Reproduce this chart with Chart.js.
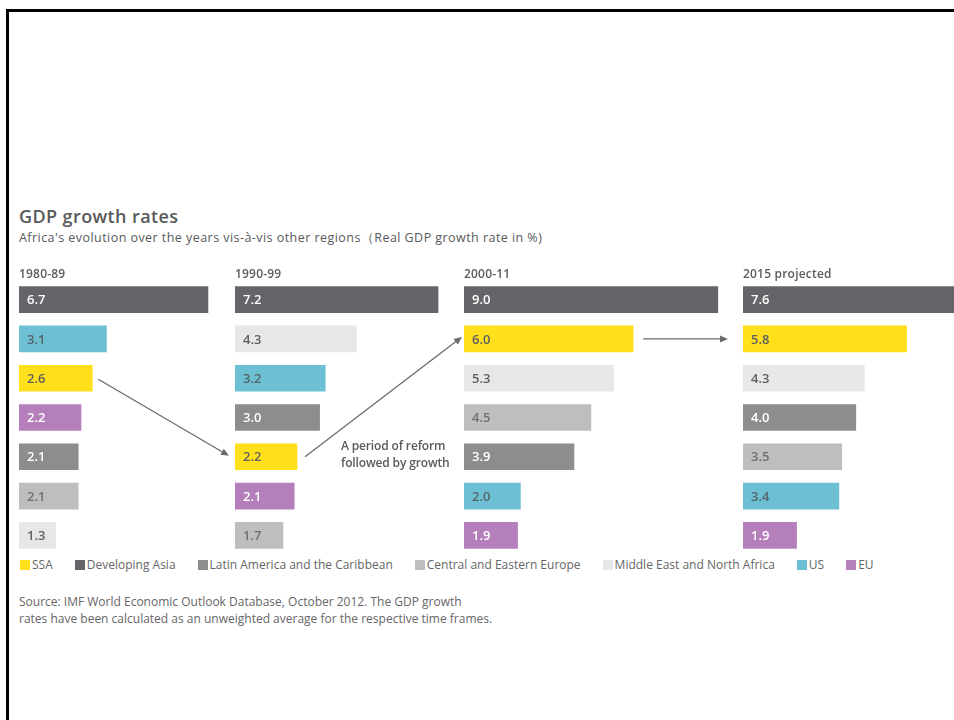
<!DOCTYPE html>
<html>
<head>
<meta charset="utf-8">
<script src="https://cdn.jsdelivr.net/npm/chart.js@4.4.1/dist/chart.umd.min.js"></script>
<style>
    html, body { margin: 0; padding: 0; background: #fff; }
    body { width: 954px; height: 720px; position: relative; overflow: hidden; font-family: "Open Sans", "Noto Sans", sans-serif; color: #58595b; }
    .frame { position: absolute; left: 6px; top: 9px; right: -10px; bottom: -10px; border-left: 3px solid #000; border-top: 3px solid #000; }
    .title { position: absolute; left: 19px; top: 204px; font-size: 18px; letter-spacing: 0.4px; font-weight: 600; line-height: 24px; }
    .subtitle { position: absolute; left: 19px; top: 229px; font-size: 12.5px; letter-spacing: 0.45px; line-height: 18px; }
    .period { position: absolute; top: 265px; font-size: 12px; letter-spacing: 0.2px; font-weight: 600; line-height: 17px; color: #5a5b5d; }
    .note { position: absolute; left: 341px; top: 437px; font-size: 12px; letter-spacing: -0.15px; font-weight: 600; line-height: 17px; color: #5a5b5d; }
    .chart-box { position: absolute; top: 280px; height: 275px; }
    .narrow { font-family: "Open Sans", sans-serif; color: #666; }
    .legend { position: absolute; left: 20px; top: 557px; display: flex; font-size: 12px; line-height: 16px; }
    .legend-item { display: flex; align-items: center; margin-right: 22px; }
    .legend-swatch { width: 10px; height: 10px; margin-right: 2px; }
    .source { position: absolute; left: 19px; top: 593px; font-size: 12px; line-height: 17px; }
    #arrows { position: absolute; left: 0; top: 0; pointer-events: none; }
</style>
</head>
<body>
<div class="frame"></div>
<div class="title">GDP growth rates</div>
<div class="subtitle">Africa's evolution over the years vis-à-vis other regions（Real GDP growth rate in %)</div>
<div id="charts"></div>
<div class="note">A period of reform<br>followed by growth</div>
<div class="legend narrow" id="legend"></div>
<div class="source narrow">Source: IMF World Economic Outlook Database, October 2012. The GDP growth<br>rates have been calculated as an unweighted average for the respective time frames.</div>
<canvas id="arrows" width="954" height="720"></canvas>

<script>
// data
const periods = ['1980-89', '1990-99', '2000-11', '2015 projected'];
const regions = ['SSA', 'Developing Asia', 'Latin America and the Caribbean', 'Central and Eastern Europe', 'Middle East and North Africa', 'US', 'EU'];
const regionColors = ['#ffe01b', '#646569', '#8c8d8f', '#bdbec0', '#e6e7e8', '#6dc0d3', '#b57fbc'];
const labelColors = ['#5f6062', '#ffffff', '#ffffff', '#6f7072', '#5f6062', '#55646a', '#ffffff'];

// growth rate per region, one value per period
const ssa = [2.6, 2.2, 6.0, 5.8];
const developingAsia = [6.7, 7.2, 9.0, 7.6];
const latinAmerica = [2.1, 3.0, 3.9, 4.0];
const easternEurope = [2.1, 1.7, 4.5, 3.5];
const middleEast = [1.3, 4.3, 5.3, 4.3];
const us = [3.1, 3.2, 2.0, 3.4];
const eu = [2.2, 2.1, 1.9, 1.9];
const seriesByRegion = [ssa, developingAsia, latinAmerica, easternEurope, middleEast, us, eu];

// layout of the four small bar charts
const panelLeft = [19, 235, 464, 743];
const panelWidth = [205, 220, 270, 211];
const PX_PER_UNIT = 28.2;

const valueLabels = {
    id: 'valueLabels',
    afterDatasetsDraw(chart) {
        const ctx = chart.ctx;
        const meta = chart.getDatasetMeta(0);
        const ds = chart.data.datasets[0];
        ctx.save();
        ctx.font = '600 13px "Open Sans", sans-serif';
        ctx.textBaseline = 'middle';
        meta.data.forEach((bar, i) => {
            ctx.fillStyle = ds.labelColors[i];
            ctx.fillText(ds.data[i].toFixed(1), bar.base + 8, bar.y + 1);
        });
        ctx.restore();
    }
};

const charts = [];

periods.forEach((period, p) => {
    // sort regions by value for this period, largest on top
    const order = regions.map((r, i) => i).sort((a, b) => seriesByRegion[b][p] - seriesByRegion[a][p]);

    const lbl = document.createElement('div');
    lbl.className = 'period';
    lbl.style.left = panelLeft[p] + 'px';
    lbl.textContent = period;
    document.body.appendChild(lbl);

    const box = document.createElement('div');
    box.className = 'chart-box';
    box.style.left = panelLeft[p] + 'px';
    box.style.width = panelWidth[p] + 'px';
    const canvas = document.createElement('canvas');
    canvas.width = panelWidth[p];
    canvas.height = 275;
    box.appendChild(canvas);
    document.getElementById('charts').appendChild(box);

    const chart = new Chart(canvas.getContext('2d'), {
        type: 'bar',
        data: {
            labels: order.map(i => regions[i]),
            datasets: [{
                data: order.map(i => seriesByRegion[i][p]),
                backgroundColor: order.map(i => regionColors[i]),
                labelColors: order.map(i => labelColors[i]),
                borderWidth: 0,
                barThickness: 26
            }]
        },
        options: {
            indexAxis: 'y',
            responsive: false,
            animation: false,
            layout: { padding: 0 },
            scales: {
                x: { display: false, min: 0, max: panelWidth[p] / PX_PER_UNIT },
                y: { display: false }
            },
            plugins: { legend: { display: false }, tooltip: { enabled: false } }
        },
        plugins: [valueLabels]
    });
    chart.ssaIndex = order.indexOf(0);
    charts.push(chart);
});

// legend
const legendEl = document.getElementById('legend');
regions.forEach((r, i) => {
    const item = document.createElement('div');
    item.className = 'legend-item';
    item.innerHTML = '<span class="legend-swatch" style="background:' + regionColors[i] + '"></span>' + r;
    legendEl.appendChild(item);
});

// arrows following the SSA bar from period to period
function ssaBar(p) {
    const bar = charts[p].getDatasetMeta(0).data[charts[p].ssaIndex];
    return { start: panelLeft[p] + bar.base, end: panelLeft[p] + bar.x, y: 280 + bar.y };
}

function drawArrow(ctx, x1, y1, x2, y2) {
    const ang = Math.atan2(y2 - y1, x2 - x1);
    ctx.beginPath();
    ctx.moveTo(x1, y1);
    ctx.lineTo(x2 - 6 * Math.cos(ang), y2 - 6 * Math.sin(ang));
    ctx.stroke();
    ctx.beginPath();
    ctx.moveTo(x2, y2);
    ctx.lineTo(x2 - 8 * Math.cos(ang) + 3.5 * Math.sin(ang), y2 - 8 * Math.sin(ang) - 3.5 * Math.cos(ang));
    ctx.lineTo(x2 - 8 * Math.cos(ang) - 3.5 * Math.sin(ang), y2 - 8 * Math.sin(ang) + 3.5 * Math.cos(ang));
    ctx.closePath();
    ctx.fill();
}

const actx = document.getElementById('arrows').getContext('2d');
actx.strokeStyle = '#6a6b6d';
actx.fillStyle = '#6a6b6d';
actx.lineWidth = 1.3;
const b0 = ssaBar(0), b1 = ssaBar(1), b2 = ssaBar(2), b3 = ssaBar(3);
drawArrow(actx, b0.end + 6, b0.y + 1, b1.start - 6, b1.y - 1);
drawArrow(actx, b1.end + 8, b1.y, b2.start - 2, b2.y - 2);
drawArrow(actx, b2.end + 10, b2.y, b3.start - 15, b3.y);
</script>
</body>
</html>
